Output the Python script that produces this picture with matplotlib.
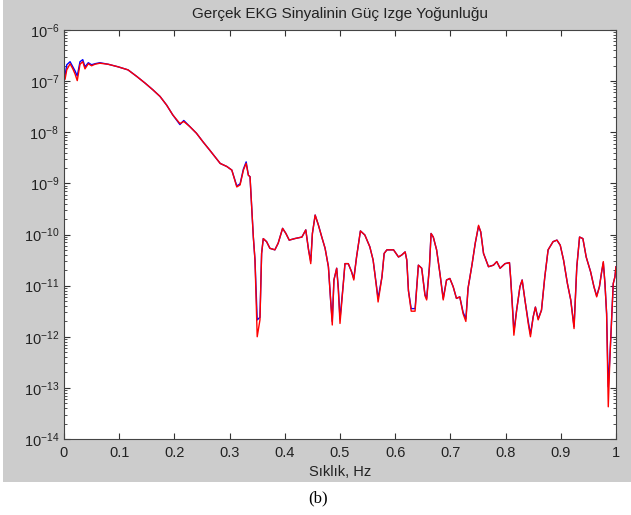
import matplotlib
matplotlib.use("Agg")
import matplotlib.pyplot as plt
from matplotlib.patches import Rectangle
from matplotlib.ticker import LogLocator, NullFormatter

plt.rcParams["font.family"] = ["Liberation Sans", "DejaVu Sans"]
plt.rcParams["mathtext.fontset"] = "custom"
plt.rcParams["mathtext.rm"] = "Liberation Sans"
plt.rcParams["mathtext.it"] = "Liberation Sans"
plt.rcParams["mathtext.bf"] = "Liberation Sans"

# Frequency (Hz) and log10 of the power spectral density for both estimates
freq = [0.002, 0.005, 0.011, 0.016, 0.020, 0.024, 0.029, 0.034, 0.038, 0.044,
        0.050, 0.056, 0.065, 0.080, 0.098, 0.116, 0.132, 0.147, 0.161, 0.174,
        0.186, 0.197, 0.210, 0.217, 0.228, 0.240, 0.252, 0.264, 0.283, 0.295,
        0.304, 0.313, 0.319, 0.325, 0.330, 0.334, 0.337, 0.340, 0.343, 0.346,
        0.350, 0.355, 0.358, 0.361, 0.367, 0.373, 0.382, 0.388, 0.396, 0.402,
        0.408, 0.418, 0.431, 0.438, 0.443, 0.447, 0.450, 0.455, 0.461, 0.467,
        0.473, 0.479, 0.483, 0.486, 0.489, 0.494, 0.497, 0.500, 0.506, 0.509,
        0.515, 0.521, 0.525, 0.530, 0.537, 0.545, 0.554, 0.560, 0.566, 0.569,
        0.576, 0.580, 0.585, 0.597, 0.606, 0.612, 0.618, 0.621, 0.624, 0.629,
        0.636, 0.642, 0.648, 0.654, 0.657, 0.662, 0.665, 0.669, 0.675, 0.681,
        0.687, 0.693, 0.699, 0.705, 0.711, 0.717, 0.723, 0.728, 0.732, 0.739,
        0.745, 0.751, 0.755, 0.760, 0.769, 0.778, 0.784, 0.790, 0.799, 0.807,
        0.809, 0.813, 0.815, 0.820, 0.826, 0.830, 0.835, 0.841, 0.845, 0.850,
        0.854, 0.859, 0.865, 0.871, 0.877, 0.886, 0.893, 0.899, 0.905, 0.912,
        0.918, 0.924, 0.929, 0.934, 0.940, 0.946, 0.954, 0.960, 0.965, 0.970,
        0.974, 0.977, 0.980, 0.983, 0.986, 0.989, 0.992, 0.995, 0.998, 1.000]

psd_blue_log = [-6.88, -6.68, -6.62, -6.72, -6.80, -6.90, -6.62, -6.58, -6.72, -6.64,
                -6.68, -6.66, -6.64, -6.67, -6.72, -6.78, -6.91, -7.04, -7.17, -7.30,
                -7.47, -7.66, -7.85, -7.77, -7.89, -8.02, -8.19, -8.35, -8.61, -8.67,
                -8.74, -9.05, -9.01, -8.72, -8.58, -8.84, -8.87, -9.46, -10.05, -10.50,
                -11.67, -11.62, -10.37, -10.08, -10.14, -10.27, -10.30, -10.17, -9.88, -9.98,
                -10.11, -10.08, -10.05, -9.91, -10.30, -10.52, -9.98, -9.62, -9.82, -10.05,
                -10.27, -10.63, -11.28, -11.70, -10.89, -10.66, -11.05, -11.65, -10.96, -10.57,
                -10.57, -10.73, -10.86, -10.44, -9.93, -10.01, -10.24, -10.50, -11.00, -11.25,
                -10.83, -10.37, -10.30, -10.30, -10.44, -10.40, -10.34, -10.50, -11.10, -11.45,
                -11.45, -10.60, -10.66, -11.18, -11.25, -10.63, -9.98, -10.05, -10.30, -10.76,
                -11.25, -10.89, -10.86, -11.02, -11.25, -11.22, -11.52, -11.65, -11.05, -10.60,
                -10.17, -9.84, -9.95, -10.37, -10.63, -10.60, -10.53, -10.66, -10.57, -10.55,
                -10.83, -11.50, -11.90, -11.48, -11.02, -10.89, -11.28, -11.70, -11.95, -11.61,
                -11.42, -11.65, -11.48, -10.83, -10.30, -10.14, -10.11, -10.21, -10.50, -10.96,
                -11.28, -11.80, -10.63, -10.05, -10.08, -10.44, -10.73, -11.02, -11.20, -11.02,
                -10.73, -10.55, -10.96, -11.55, -12.98, -12.39, -11.67, -10.96, -10.83, -10.63]

psd_red_log = [-6.96, -6.78, -6.66, -6.76, -6.86, -6.99, -6.67, -6.62, -6.76, -6.66,
               -6.70, -6.67, -6.65, -6.67, -6.72, -6.78, -6.91, -7.04, -7.17, -7.30,
               -7.47, -7.66, -7.83, -7.79, -7.89, -8.02, -8.19, -8.35, -8.61, -8.67,
               -8.74, -9.07, -9.03, -8.74, -8.61, -8.84, -8.87, -9.46, -10.05, -10.50,
               -12.00, -11.67, -10.37, -10.08, -10.14, -10.27, -10.30, -10.17, -9.88, -9.98,
               -10.11, -10.08, -10.05, -9.91, -10.30, -10.57, -9.98, -9.62, -9.82, -10.05,
               -10.27, -10.63, -11.28, -11.77, -10.89, -10.66, -11.09, -11.74, -10.96, -10.57,
               -10.57, -10.73, -10.89, -10.44, -9.93, -10.01, -10.24, -10.50, -11.02, -11.32,
               -10.83, -10.37, -10.30, -10.30, -10.44, -10.40, -10.34, -10.50, -11.10, -11.50,
               -11.50, -10.60, -10.66, -11.20, -11.28, -10.63, -9.98, -10.05, -10.30, -10.76,
               -11.28, -10.89, -10.86, -11.02, -11.25, -11.22, -11.55, -11.70, -11.05, -10.60,
               -10.17, -9.82, -9.95, -10.37, -10.63, -10.60, -10.53, -10.66, -10.57, -10.55,
               -10.83, -11.55, -11.97, -11.48, -11.02, -10.89, -11.28, -11.74, -12.00, -11.61,
               -11.42, -11.67, -11.48, -10.83, -10.30, -10.14, -10.11, -10.21, -10.50, -10.96,
               -11.28, -11.84, -10.63, -10.05, -10.08, -10.44, -10.73, -11.02, -11.22, -11.02,
               -10.73, -10.53, -10.96, -11.55, -13.37, -12.39, -11.67, -10.96, -10.83, -10.63]

title_text = "Gerçek EKG Sinyalinin Güç Izge Yoğunluğu"
xlabel_text = "Sıklık, Hz"
panel_label = "(b)"
x_ticks = [0, 0.1, 0.2, 0.3, 0.4, 0.5, 0.6, 0.7, 0.8, 0.9, 1]
x_tick_labels = ["0", "0.1", "0.2", "0.3", "0.4", "0.5", "0.6", "0.7", "0.8", "0.9", "1"]

W, H = 631, 515
fig = plt.figure(figsize=(W / 100, H / 100), dpi=100, facecolor="white")

# grey figure panel above the caption strip
fig.patches.append(Rectangle((3 / W, 1 - 482 / H), 1 - 3 / W, 482 / H,
                             transform=fig.transFigure, facecolor="#cccccc",
                             edgecolor="none", zorder=-10))

ax = fig.add_axes([64 / W, 1 - 439 / H, (616 - 64) / W, (439 - 30) / H])
ax.set_zorder(2)
ax.set_facecolor("white")

blue_vals = [10 ** v for v in psd_blue_log]
red_vals = [10 ** v for v in psd_red_log]
ax.plot(freq, blue_vals, color="#0000ff", lw=1.0)
ax.plot(freq, red_vals, color="#ff0000", lw=1.0)

ax.set_yscale("log")
ax.set_xlim(0, 1)
ax.set_ylim(1e-14, 1e-6)
ax.set_xticks(x_ticks)
ax.set_xticklabels(x_tick_labels)
ax.yaxis.set_major_locator(LogLocator(base=10, numticks=20))
ax.yaxis.set_minor_locator(LogLocator(base=10, subs=range(2, 10), numticks=20))
ax.yaxis.set_minor_formatter(NullFormatter())

ax.tick_params(which="both", direction="in", top=True, right=True,
               labelsize=10.5, labelcolor="#222222", color="#333333")
ax.tick_params(which="major", length=4.5, width=0.8)
ax.tick_params(which="minor", length=2.5, width=0.6)
ax.tick_params(axis="x", pad=5)
for s in ax.spines.values():
    s.set_color("#444444")
    s.set_linewidth(0.8)

fig.text(340 / W, 1 - 14 / H, title_text, ha="center", va="center",
         fontsize=11, color="#222222")
fig.text(340 / W, 1 - 472 / H, xlabel_text, ha="center", va="center",
         fontsize=10.5, color="#222222")
fig.text(318 / W, 1 - 498 / H, panel_label, ha="center", va="center",
         fontsize=12, family=["Liberation Serif", "DejaVu Serif"], color="black")

fig.savefig("out.png", dpi=100, facecolor="white")
